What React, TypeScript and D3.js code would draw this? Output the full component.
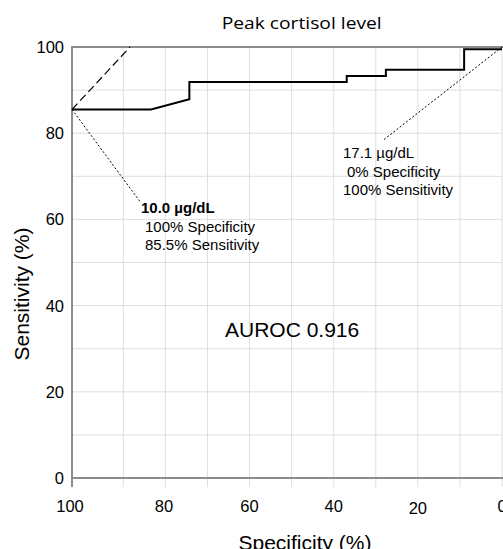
import React from "react";
import * as d3 from "d3";

// ROC curve for peak cortisol level (specificity runs 100 -> 0)
const rocSpecificity = [100, 83.4, 74.3, 74.3, 36.9, 36.9, 27.6, 27.6, 9.0, 9.0, 0];
const rocSensitivity = [85.5, 85.5, 87.9, 91.9, 91.9, 93.3, 93.3, 94.7, 94.7, 99.5, 99.5];

const xTicks = [100, 80, 60, 40, 20, 0];
const yTicks = [0, 20, 40, 60, 80, 100];
const xGrid = [90, 80, 70, 60, 50, 40, 30, 20, 10, 0];
const yGrid = [10, 20, 30, 40, 50, 60, 70, 80, 90];

// reference dashed line and the two annotation leader lines
const dashedLine = [[100, 85.5], [88.4, 100]];
const leaderLow = [[100, 85.5], [86.0, 64.1]];
const leaderHigh = [[0, 100], [28.2, 78.4]];

const lowCutLines = ["10.0 µg/dL", "100% Specificity", "85.5% Sensitivity"];
const highCutLines = ["17.1 µg/dL", "0% Specificity", "100% Sensitivity"];
const aurocLabel = "AUROC 0.916";

const W = 503;
const H = 549;
const left = 72, right = 502, top = 47, bottom = 478;

export default function App() {
  // the first interval (100 -> 90) is drawn wider than the rest in the original
  const x = d3.scaleLinear().domain([100, 90, 0]).range([left, 123.3, right]);
  const y = d3.scaleLinear().domain([0, 100]).range([bottom, top]);

  const line = d3.line<[number, number]>().x(d => x(d[0])).y(d => y(d[1]));
  const roc: [number, number][] = rocSpecificity.map((s, i) => [s, rocSensitivity[i]]);

  const axisColor = "#8c8c8c";
  const gridColor = "#dedede";
  const font = "Liberation Sans, Arial, sans-serif";

  return (
    <svg width={W} height={H} style={{ position: "absolute", left: 0, top: 0, background: "#fff" }}>
      {/* grid */}
      {xGrid.map(v => (
        <line key={"gx" + v} x1={x(v)} x2={x(v)} y1={top} y2={bottom} stroke={gridColor} strokeWidth={1} />
      ))}
      {yGrid.map(v => (
        <line key={"gy" + v} x1={left} x2={right} y1={y(v)} y2={y(v)} stroke={gridColor} strokeWidth={1} />
      ))}

      {/* bottom tick marks */}
      {[100, ...xGrid].map(v => (
        <line key={"tk" + v} x1={x(v)} x2={x(v)} y1={bottom} y2={bottom + 9} stroke={v === 100 ? axisColor : gridColor} strokeWidth={v === 100 ? 2 : 1} />
      ))}

      {/* frame */}
      <line x1={left} x2={left} y1={top - 1} y2={bottom + 9} stroke={axisColor} strokeWidth={2} />
      <line x1={left} x2={right + 1} y1={top} y2={top} stroke={axisColor} strokeWidth={2} />
      <line x1={left} x2={right + 1} y1={bottom} y2={bottom} stroke={axisColor} strokeWidth={2} />

      {/* reference lines */}
      <path d={line(dashedLine as [number, number][]) || ""} stroke="#000" strokeWidth={1.2} strokeDasharray="8,4" fill="none" />
      <path d={line(leaderLow as [number, number][]) || ""} stroke="#000" strokeWidth={1} strokeDasharray="2,2" fill="none" />
      <path d={line(leaderHigh as [number, number][]) || ""} stroke="#000" strokeWidth={1} strokeDasharray="2,2" fill="none" />

      {/* ROC curve */}
      <path d={line(roc) || ""} stroke="#000" strokeWidth={2} fill="none" />

      {/* tick labels */}
      {yTicks.map(v => (
        <text key={"yl" + v} x={64} y={y(v) + 6} textAnchor="end" fontFamily={font} fontSize={16.5} fill="#000">{v}</text>
      ))}
      {xTicks.map(v => (
        <text key={"xl" + v} x={v === 100 ? 70 : v === 80 ? 164 : x(v)} y={v === 20 ? 514 : 512} textAnchor="middle" fontFamily={font} fontSize={16.5} fill="#000">{v}</text>
      ))}

      {/* annotations */}
      <text fontFamily={font} fontSize={15} fill="#000">
        <tspan x={141} y={213.3} fontWeight="bold">{lowCutLines[0]}</tspan>
        <tspan x={145} y={232.3}>{lowCutLines[1]}</tspan>
        <tspan x={145} y={250}>{lowCutLines[2]}</tspan>
      </text>
      <text fontFamily={font} fontSize={15} fill="#000">
        <tspan x={343} y={158.3}>{highCutLines[0]}</tspan>
        <tspan x={347} y={176.7}>{highCutLines[1]}</tspan>
        <tspan x={343} y={195}>{highCutLines[2]}</tspan>
      </text>
      <text x={225} y={337.3} fontFamily={font} fontSize={21} fill="#000">{aurocLabel}</text>

      {/* titles */}
      <text x={221.7} y={28.5} textLength={160} lengthAdjust="spacingAndGlyphs" fontFamily="Open Sans, sans-serif" fontSize={17} fill="#000">Peak cortisol level</text>
      <text x={305} y={550} textAnchor="middle" fontFamily={font} fontSize={21} fill="#000">Specificity (%)</text>
      <text transform={`translate(29,294) rotate(-90)`} textAnchor="middle" fontFamily={font} fontSize={21} fill="#000">Sensitivity (%)</text>
    </svg>
  );
}
